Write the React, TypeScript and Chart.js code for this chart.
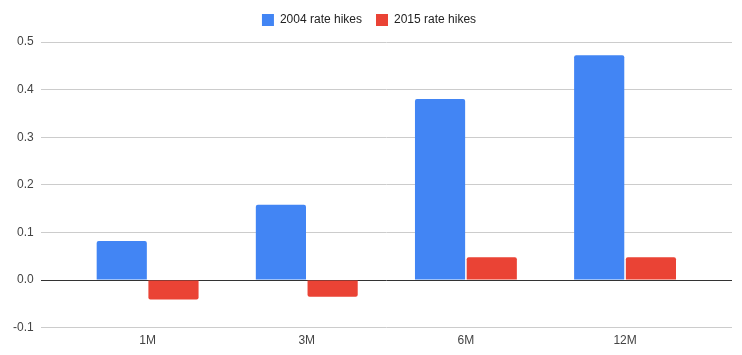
import React, { useEffect, useRef } from "react";
import { Chart, registerables } from "chart.js";

Chart.register(...registerables);

const categories = ["1M", "3M", "6M", "12M"];
const hikes2004 = [0.082, 0.158, 0.38, 0.472];
const hikes2015 = [-0.041, -0.035, 0.048, 0.048];
const seriesNames = ["2004 rate hikes", "2015 rate hikes"];
const yTicks = [-0.1, 0, 0.1, 0.2, 0.3, 0.4, 0.5];

const legendMargin = {
  id: "legendMargin",
  beforeInit(chart: any) {
    const orig = chart.legend.fit;
    chart.legend.fit = function () {
      orig.bind(chart.legend)();
      this.height += 6;
    };
  },
};

export default function App() {
  const ref = useRef<HTMLCanvasElement | null>(null);
  useEffect(() => {
    document.body.style.margin = "0";
    const font = { family: "Arial, 'Liberation Sans', sans-serif", size: 12 };
    const chart = new Chart(ref.current!, {
      type: "bar",
      plugins: [legendMargin],
      data: {
        datasets: [
          {
            label: seriesNames[0],
            data: hikes2004.map((v, i) => ({ x: i, y: v })),
            backgroundColor: "#4285F4",
            borderRadius: 2,
            borderSkipped: "start",
            barPercentage: 0.97,
            categoryPercentage: 0.65,
          },
          {
            label: seriesNames[1],
            data: hikes2015.map((v, i) => ({ x: i, y: v })),
            backgroundColor: "#EA4335",
            borderRadius: 2,
            borderSkipped: "start",
            barPercentage: 0.97,
            categoryPercentage: 0.65,
          },
        ],
      },
      options: {
        animation: false,
        responsive: false,
        layout: { padding: { left: 6, right: 10, top: 0, bottom: 1 } },
        plugins: {
          legend: {
            position: "top",
            labels: {
              boxWidth: 12,
              boxHeight: 12,
              font,
              color: "#222",
              padding: 14,
            },
          },
          tooltip: { enabled: false },
        },
        scales: {
          x: {
            type: "linear",
            offset: false,
            min: -0.672,
            max: 3.672,
            grid: { display: false, drawTicks: false },
            border: { display: false },
            afterBuildTicks: (scale: any) => {
              scale.ticks = categories.map((_, i) => ({ value: i }));
            },
            ticks: {
              font,
              color: "#444",
              padding: 6,
              maxRotation: 0,
              autoSkip: false,
              callback: (v: any) => categories[v] ?? "",
            },
          },
          y: {
            min: yTicks[0],
            max: yTicks[yTicks.length - 1],
            afterBuildTicks: (scale: any) => {
              scale.ticks = yTicks.map((v) => ({ value: v }));
            },
            border: { display: false },
            grid: {
              color: (ctx: any) =>
                ctx.tick && Math.abs(ctx.tick.value) < 1e-9 ? "#333" : "#ccc",
              lineWidth: 1,
              drawTicks: false,
            },
            ticks: {
              font,
              color: "#444",
              padding: 7,
              callback: (v: any) => Number(v).toFixed(1),
            },
          },
        },
      },
    });
    return () => chart.destroy();
  }, []);
  return <canvas ref={ref} width={742} height={355} style={{ display: "block" }} />;
}
